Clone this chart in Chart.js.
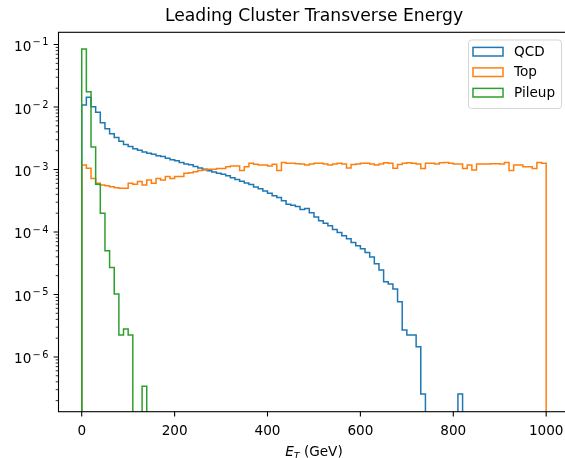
<!DOCTYPE html>
<html><head><meta charset="utf-8">
<script src="https://cdn.jsdelivr.net/npm/chart.js@4.4.1/dist/chart.umd.min.js"></script>
<style>
html,body{margin:0;padding:0;overflow:hidden;background:#fff;width:565px;height:458px}
#wrap{position:absolute;left:0;top:0;width:565px;height:458px;overflow:hidden}
#c{display:block}
</style>
</head><body><div id="wrap"><canvas id="c" width="628" height="458"></canvas></div>
<script>
// ---- data (histogram, 10 GeV bins from 0 to 1000 GeV) ----
const seriesNames = ['QCD', 'Top', 'Pileup'];
const binWidth = 10;
const qcdValues = [
 0.01076,0.01429,0.01012,0.00822,0.00562,0.00447,0.00372,0.00324,0.00282,0.00251,
 0.00234,0.00214,0.00204,0.00191,0.00182,0.00176,0.00166,0.00162,0.00151,0.00143,
 0.00138,0.00129,0.00123,0.00119,0.00112,0.00106,0.00101,0.000955,0.000912,0.000871,
 0.000841,0.000794,0.000741,0.000692,0.000646,0.000610,0.000575,0.000525,0.000490,0.000452,
 0.000417,0.000380,0.000355,0.000316,0.000279,0.000269,0.000257,0.000229,0.000237,0.000204,
 0.000174,0.000151,0.000138,0.000126,0.000110,0.0000977,0.0000871,0.0000776,0.0000676,0.0000603,
 0.0000537,0.0000468,0.0000398,0.0000309,0.0000247,0.0000160,0.0000147,0.0000122,0.00000767,0.0000027,
 0.00000225,0.00000225,0.00000146,0.000000256,0,0,0,0,0,0,
 0,0.000000256,0,0,0,0,0,0,0,0,
 0,0,0,0,0,0,0,0,0,0
];
const topValues = [
 0.00118,0.00105,0.00072,0.00060,0.000565,0.00055,0.00053,0.00051,0.00050,0.00050,
 0.00060,0.00058,0.00064,0.000565,0.00068,0.00060,0.00072,0.00068,0.00077,0.00072,
 0.00077,0.00077,0.00087,0.00089,0.00092,0.00096,0.00098,0.00101,0.00101,0.00104,
 0.00104,0.00111,0.00114,0.00114,0.00096,0.00111,0.00126,0.00121,0.00118,0.00118,
 0.00114,0.00121,0.00096,0.00129,0.00126,0.00126,0.00124,0.00122,0.00118,0.00122,
 0.00126,0.00126,0.00122,0.00118,0.00122,0.00126,0.00122,0.00106,0.00120,0.00122,
 0.00126,0.00126,0.00122,0.00118,0.00122,0.00128,0.00126,0.00105,0.00120,0.00126,
 0.00128,0.00126,0.00122,0.00104,0.00126,0.00126,0.00122,0.00128,0.00130,0.00126,
 0.00122,0.00122,0.00104,0.00118,0.00098,0.00122,0.00122,0.00122,0.00124,0.00124,
 0.00122,0.00130,0.00096,0.00118,0.00118,0.00111,0.00111,0.00104,0.00130,0.00126
];
const pileupValues = [
 0.085,0.0176,0.0023,0.00058,0.00020,0.000050,0.000027,0.0000102,0.00000225,0.0000028,
 0.00000225,0,0,0.00000034,0,0,0,0,0,0,
 0,0,0,0,0,0,0,0,0,0, 0,0,0,0,0,0,0,0,0,0,
 0,0,0,0,0,0,0,0,0,0, 0,0,0,0,0,0,0,0,0,0,
 0,0,0,0,0,0,0,0,0,0, 0,0,0,0,0,0,0,0,0,0,
 0,0,0,0,0,0,0,0,0,0, 0,0,0,0,0,0,0,0,0,0
];
const seriesColors = ['#1f77b4', '#ff7f0e', '#2ca02c'];
const xTickValues = [0, 200, 400, 600, 800, 1000];
const xTickLabels = ['0', '200', '400', '600', '800', '1000'];
const yTickValues = [1e-1, 1e-2, 1e-3, 1e-4, 1e-5, 1e-6];
const yTickBase = '10';
const yTickExponents = ['1', '2', '3', '4', '5', '6'];
const titleText = 'Leading Cluster Transverse Energy';

// ---- build step outlines (matplotlib histtype="step") ----
const FLOOR = 1e-12;
function stepPoints(vals) {
  const pts = [{x: 0, y: FLOOR}];
  vals.forEach((v, i) => pts.push({x: i * binWidth, y: v > 0 ? v : FLOOR}));
  pts.push({x: vals.length * binWidth, y: FLOOR});
  return pts;
}
const allSeries = [qcdValues, topValues, pileupValues];

const FONT = 'DejaVu Sans';
const FS = 13.6;

const decor = {
  id: 'decor',
  afterDatasetsDraw(chart) {
    const {ctx, chartArea: a, scales: {x, y}} = chart;
    ctx.save();
    // spines (the right one falls outside the visible window, as in the reference)
    ctx.strokeStyle = '#000';
    ctx.lineWidth = 1.1;
    ctx.strokeRect(a.left, a.top, a.right - a.left, a.bottom - a.top);
    // major ticks
    ctx.beginPath();
    xTickValues.forEach(v => { const px = x.getPixelForValue(v); ctx.moveTo(px, a.bottom); ctx.lineTo(px, a.bottom + 4.9); });
    yTickValues.forEach(v => { const py = y.getPixelForValue(v); ctx.moveTo(a.left, py); ctx.lineTo(a.left - 4.9, py); });
    ctx.stroke();
    // minor ticks
    ctx.lineWidth = 0.8;
    ctx.beginPath();
    for (let e = -8; e <= 0; e++) {
      for (let m = 2; m <= 9; m++) {
        const v = m * Math.pow(10, e);
        if (v < y.min || v > y.max) continue;
        const py = y.getPixelForValue(v);
        ctx.moveTo(a.left, py); ctx.lineTo(a.left - 2.8, py);
      }
    }
    ctx.stroke();
    // y tick labels: 10 with superscript "-n"
    ctx.fillStyle = '#000';
    ctx.textBaseline = 'alphabetic';
    ctx.textAlign = 'left';
    const fBase = FS + 'px "' + FONT + '"';
    const fSup = (FS * 0.72) + 'px "' + FONT + '"';
    yTickValues.forEach((v, i) => {
      const py = y.getPixelForValue(v);
      ctx.font = fSup;
      const wM = ctx.measureText('\u2212').width;
      const wD = ctx.measureText(yTickExponents[i]).width;
      ctx.font = fBase; const wB = ctx.measureText(yTickBase).width;
      const right = a.left - 10;
      const gap1 = 1.2, gap2 = 1.6;
      let sx = right - wD - gap2 - wM - gap1 - wB;
      ctx.fillText(yTickBase, sx, py + 6.5);
      sx += wB + gap1;
      ctx.font = fSup;
      ctx.fillText('\u2212', sx, py + 0.8);
      sx += wM + gap2;
      ctx.fillText(yTickExponents[i], sx, py + 0.8);
    });
    // legend (matplotlib style)
    const lx = 468.5, ly = 40, lw = 93, lh = 68.5, r = 3;
    ctx.beginPath();
    ctx.moveTo(lx + r, ly); ctx.lineTo(lx + lw - r, ly); ctx.quadraticCurveTo(lx + lw, ly, lx + lw, ly + r);
    ctx.lineTo(lx + lw, ly + lh - r); ctx.quadraticCurveTo(lx + lw, ly + lh, lx + lw - r, ly + lh);
    ctx.lineTo(lx + r, ly + lh); ctx.quadraticCurveTo(lx, ly + lh, lx, ly + lh - r);
    ctx.lineTo(lx, ly + r); ctx.quadraticCurveTo(lx, ly, lx + r, ly);
    ctx.closePath();
    ctx.fillStyle = 'rgba(255,255,255,0.8)';
    ctx.fill();
    ctx.strokeStyle = 'rgba(204,204,204,0.8)';
    ctx.lineWidth = 1;
    ctx.stroke();
    ctx.font = fBase;
    ctx.textBaseline = 'middle';
    ctx.textAlign = 'left';
    seriesNames.forEach((name, i) => {
      const cy = 51.7 + i * 20.5;
      ctx.strokeStyle = seriesColors[i];
      ctx.lineWidth = 1.5;
      ctx.strokeRect(473, cy - 4.3, 30, 8.6);
      ctx.fillStyle = '#000';
      ctx.fillText(name, 514, cy + 0.5);
    });
    // x axis label: E_T (GeV)
    ctx.textBaseline = 'alphabetic';
    const fE = 'italic ' + FS + 'px "' + FONT + '"';
    const fT = 'italic ' + (FS * 0.7) + 'px "' + FONT + '"';
    ctx.font = fE; const wE = ctx.measureText('E').width;
    ctx.font = fT; const wT = ctx.measureText('T').width;
    ctx.font = fBase; const wR = ctx.measureText(' (GeV)').width;
    const total = wE + wT + wR;
    let sx = (a.left + a.right) / 2 - total / 2;
    const base = 455.5;
    ctx.fillStyle = '#000';
    ctx.font = fE; ctx.fillText('E', sx, base); sx += wE;
    ctx.font = fT; ctx.fillText('T', sx, base + 3); sx += wT;
    ctx.font = fBase; ctx.fillText(' (GeV)', sx, base);
    ctx.restore();
  }
};

const datasets = allSeries.map((vals, i) => ({
  label: seriesNames[i],
  data: stepPoints(vals),
  borderColor: seriesColors[i],
  backgroundColor: seriesColors[i],
  borderWidth: 1.5,
  fill: false,
  stepped: 'before',
  pointRadius: 0,
  order: 3 - i
}));

new Chart(document.getElementById('c'), {
  type: 'line',
  data: {datasets},
  plugins: [decor],
  options: {
    responsive: false,
    animation: false,
    devicePixelRatio: 1,
    layout: {padding: 0},
    plugins: {
      legend: {display: false},
      tooltip: {enabled: false},
      title: {
        display: true, text: titleText, color: '#000',
        font: {family: FONT, size: 17.2, weight: 'normal', lineHeight: 1.2},
        padding: {top: 6, bottom: 5.66}
      }
    },
    scales: {
      x: {
        type: 'linear', min: -50, max: 1050,
        afterBuildTicks: s => { s.ticks = xTickValues.map(v => ({value: v})); },
        afterFit: s => { s.height = 46.3; },
        grid: {display: false, drawTicks: false},
        border: {display: false},
        ticks: {
          autoSkip: false, maxRotation: 0, padding: 12, color: '#000',
          font: {family: FONT, size: FS},
          callback: (v) => xTickLabels[xTickValues.indexOf(v)]
        }
      },
      y: {
        type: 'logarithmic', min: 1.33e-7, max: 0.157,
        afterBuildTicks: s => { s.ticks = yTickValues.map(v => ({value: v})); },
        afterFit: s => { s.width = 58.5; },
        grid: {display: false, drawTicks: false},
        border: {display: false},
        ticks: {display: false}
      },
      yRight: {
        type: 'linear', position: 'right', min: 0, max: 1,
        afterFit: s => { s.width = 58.6; },
        grid: {display: false, drawTicks: false},
        border: {display: false},
        ticks: {display: false}
      }
    }
  }
});
</script></body></html>
